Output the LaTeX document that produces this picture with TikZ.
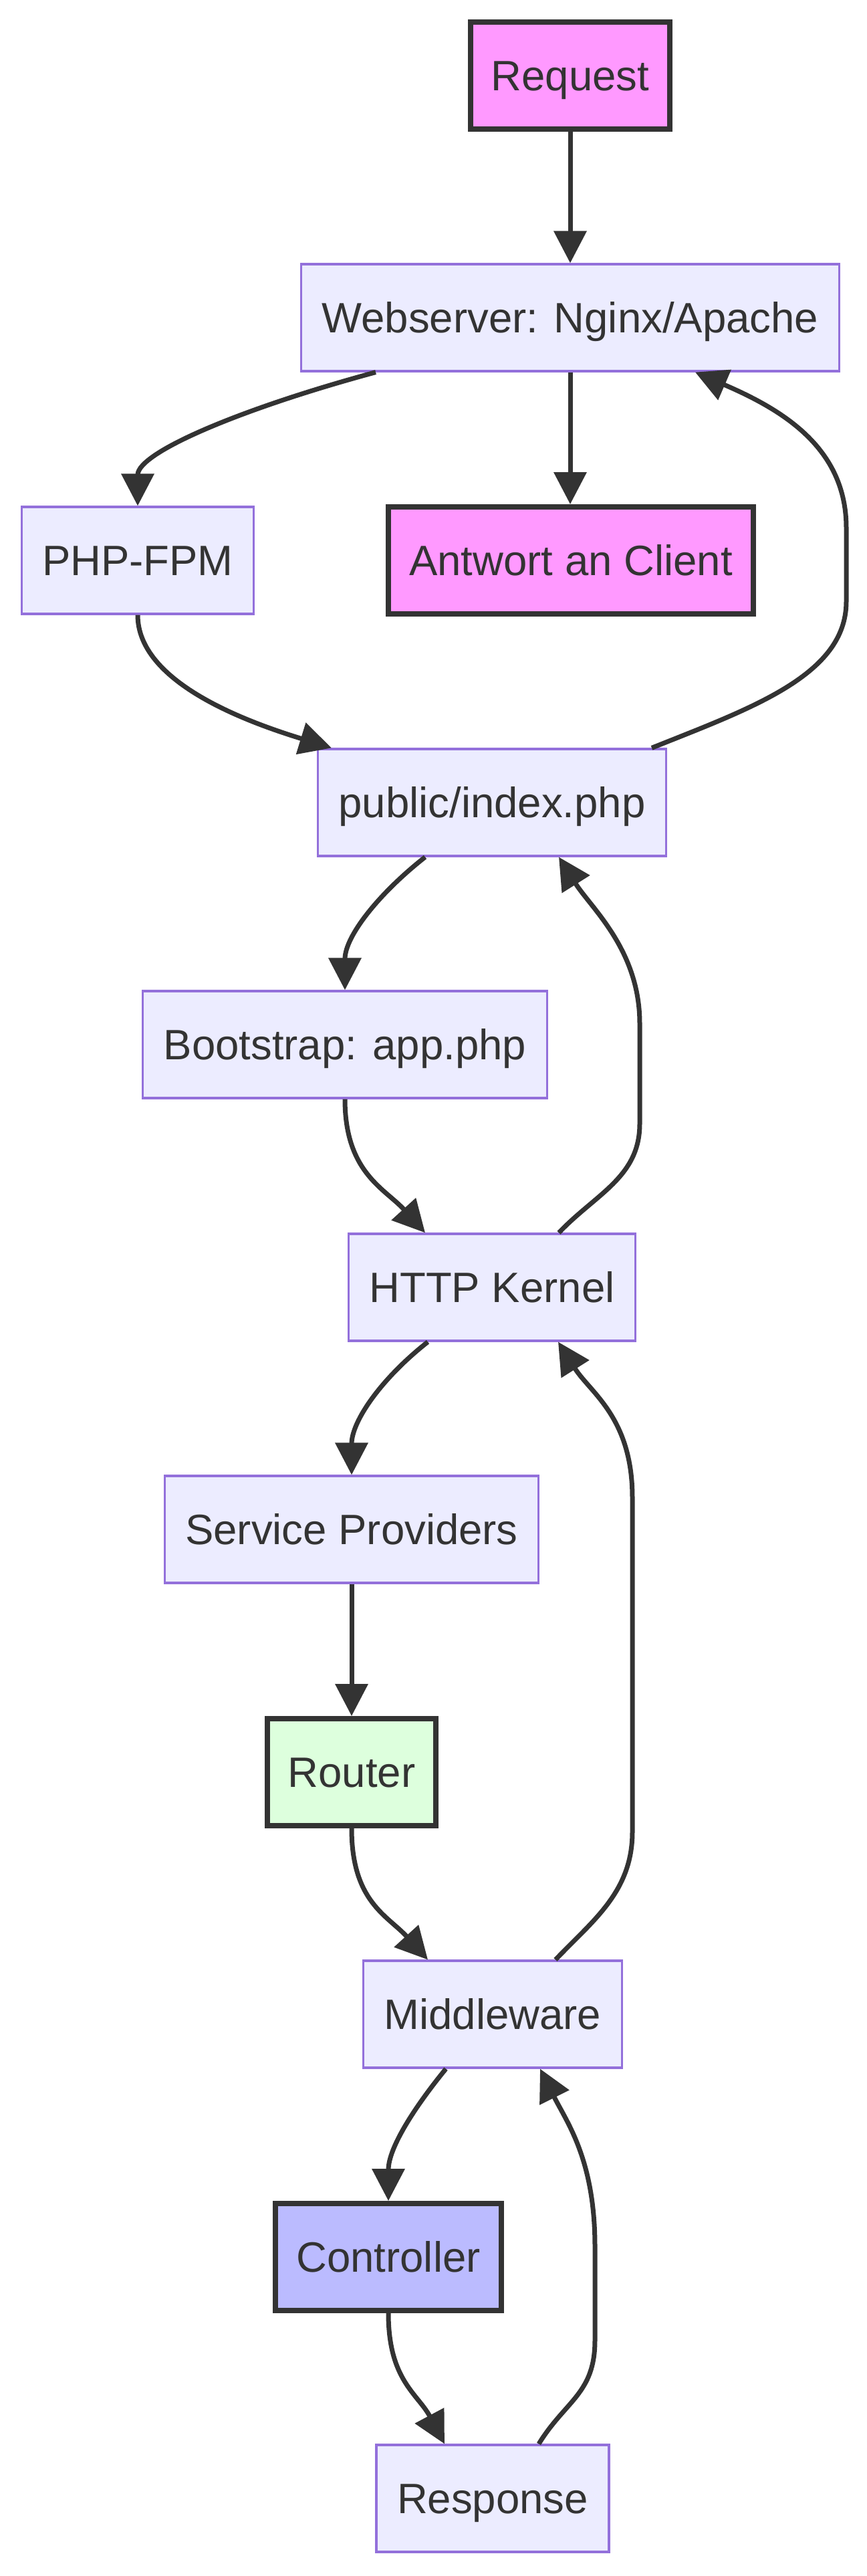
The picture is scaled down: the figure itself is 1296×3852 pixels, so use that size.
\documentclass[tikz,border=0pt]{standalone}
\usepackage{fontspec}
\setmainfont{Liberation Sans}
\usetikzlibrary{arrows.meta,calc}
\definecolor{ink}{HTML}{333333}
\definecolor{boxfill}{HTML}{ECECFF}
\definecolor{boxline}{HTML}{9370DB}
\definecolor{pinkfill}{HTML}{FF99FF}
\definecolor{greenfill}{HTML}{DDFFDD}
\definecolor{bluefill}{HTML}{BBBBFF}
\begin{document}
\begin{tikzpicture}[x=0.5pt,y=-0.5pt,>={Triangle[length=24pt,width=24pt]},
  box/.style={draw=boxline,fill=boxfill,line width=1.6pt,minimum height=80pt,inner xsep=15.5pt,
    text height=22.9pt,text depth=0pt,text=ink,font=\fontsize{31.75pt}{38pt}\selectfont},
  strong/.style={box,draw=ink,line width=4pt,fill=#1},
  link/.style={->,draw=ink,line width=3.5pt}]
  \useasboundingbox (0,0) rectangle (1296,3852);
  \node[strong=pinkfill] (req) at (853,113) {Request};
  \node[box] (web) at (853,475) {Webserver: Nginx/Apache};
  \node[box] (php) at (206,838) {PHP-FPM};
  \node[strong=pinkfill] (ant) at (854,838) {Antwort an Client};
  \node[box] (idx) at (736,1200) {public/index.php};
  \node[box] (boot) at (516,1562) {Bootstrap: app.php};
  \node[box] (kern) at (736,1925) {HTTP Kernel};
  \node[box] (serv) at (526,2287) {Service Providers};
  \node[strong=greenfill] (rout) at (526,2650) {Router};
  \node[box] (mid) at (737,3012) {Middleware};
  \node[strong=bluefill] (ctrl) at (581,3375) {Controller};
  \node[box] (resp) at (737,3736) {Response};

  \draw[link] (req) -- (web);
  \draw[link] ($(web.south)+(-291,0)$) .. controls +(-200,54) and +(0,-80) .. (php.north);
  \draw[link] (web.south) -- (web.south |- ant.north);
  \draw[link] (php.south) .. controls +(0,100) and +(-130,-40) .. ($(idx.north)+(-240,0)$);
  \draw[link] ($(idx.north)+(239,0)$) .. controls +(150,-60) and +(0,110) .. ++(291,-219) -- ++(0,-110)
    .. controls +(0,-120) and +(130,56) .. ($(web.south)+(187,0)$);
  \draw[link] ($(idx.south)+(-100,0)$) .. controls +(-70,55) and +(0,-80) .. (boot.north);
  \draw[link] (boot.south) .. controls +(0,110) and +(-60,-66) .. ($(kern.north)+(-100,0)$);
  \draw[link] ($(kern.north)+(100,0)$) .. controls +(55,-58) and +(0,80) .. ++(121,-163) -- ++(0,-150)
    .. controls +(0,-110) and +(48,76) .. ($(idx.south)+(100,0)$);
  \draw[link] ($(kern.south)+(-96,0)$) .. controls +(-70,55) and +(0,-80) .. (serv.north);
  \draw[link] (serv) -- (rout);
  \draw[link] (rout.south) .. controls +(0,110) and +(-60,-66) .. ($(mid.north)+(-97,0)$);
  \draw[link] ($(mid.north)+(94,0)$) .. controls +(55,-58) and +(0,90) .. ++(115,-191) -- ++(0,-500)
    .. controls +(0,-120) and +(48,76) .. ($(kern.south)+(99,0)$);
  \draw[link] ($(mid.south)+(-70,0)$) .. controls +(-45,55) and +(0,-80) .. (ctrl.north);
  \draw[link] (ctrl.south) .. controls +(0,100) and +(-40,-75) .. ($(resp.north)+(-72,0)$);
  \draw[link] ($(resp.north)+(69,0)$) .. controls +(40,-65) and +(0,80) .. ++(84,-155) -- ++(0,-140)
    .. controls +(0,-130) and +(40,80) .. ($(mid.south)+(71,0)$);
\end{tikzpicture}
\end{document}
